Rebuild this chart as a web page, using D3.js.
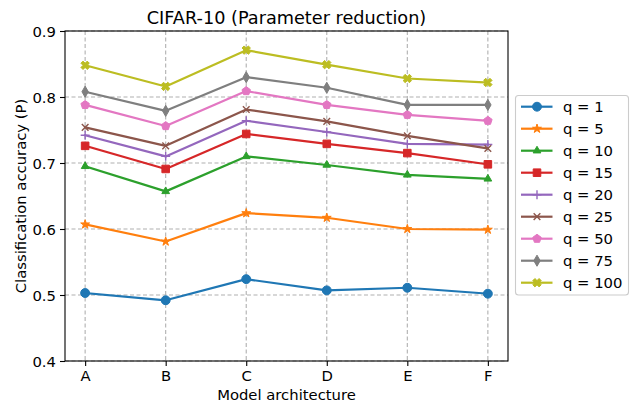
<!DOCTYPE html>
<html>
<head>
<meta charset="utf-8">
<script src="https://cdn.jsdelivr.net/npm/d3@7"></script>
<style>
  html, body { margin: 0; padding: 0; background: #fff; }
  svg { display: block; font-family: "DejaVu Sans", sans-serif; }
</style>
</head>
<body>
<svg id="chart" width="632" height="404"></svg>
<script>
const categories = ["A", "B", "C", "D", "E", "F"];
const yTicks = [0.4, 0.5, 0.6, 0.7, 0.8, 0.9];
const seriesNames = ["q = 1", "q = 5", "q = 10", "q = 15", "q = 20", "q = 25", "q = 50", "q = 75", "q = 100"];
const q1   = [0.503, 0.492, 0.524, 0.507, 0.511, 0.502];
const q5   = [0.607, 0.581, 0.624, 0.617, 0.600, 0.599];
const q10  = [0.695, 0.657, 0.710, 0.697, 0.682, 0.676];
const q15  = [0.726, 0.691, 0.744, 0.729, 0.715, 0.698];
const q20  = [0.742, 0.710, 0.764, 0.747, 0.729, 0.728];
const q25  = [0.754, 0.726, 0.781, 0.763, 0.741, 0.722];
const q50  = [0.788, 0.756, 0.809, 0.788, 0.773, 0.764];
const q75  = [0.808, 0.779, 0.830, 0.814, 0.788, 0.788];
const q100 = [0.848, 0.816, 0.871, 0.849, 0.828, 0.822];
const seriesValues = [q1, q5, q10, q15, q20, q25, q50, q75, q100];
const colors = ["#1f77b4", "#ff7f0e", "#2ca02c", "#d62728", "#9467bd", "#8c564b", "#e377c2", "#7f7f7f", "#bcbd22"];
const markers = ["o", "*", "^", "s", "+", "x", "p", "d", "X"];

const svg = d3.select("#chart");
const L = 65, R = 508, T = 31, B = 361;
const FS = 14.8;

const x = d3.scaleLinear().domain([-0.25, categories.length - 1 + 0.25]).range([L, R]);
const y = d3.scaleLinear().domain([0.4, 0.9]).range([B, T]);

// grid
const grid = svg.append("g");
categories.forEach((c, i) => {
  grid.append("line").attr("x1", x(i)).attr("x2", x(i)).attr("y1", T).attr("y2", B)
    .attr("stroke", "#b0b0b0").attr("stroke-width", 1.1).attr("stroke-dasharray", "4,2.5");
});
yTicks.forEach(t => {
  grid.append("line").attr("x1", L).attr("x2", R).attr("y1", y(t)).attr("y2", y(t))
    .attr("stroke", "#b0b0b0").attr("stroke-width", 1.1).attr("stroke-dasharray", "4,2.5");
});

// axes
const xAxis = d3.axisBottom(x).tickValues(d3.range(categories.length)).tickFormat(i => categories[i]).tickSize(5).tickPadding(4);
const yAxis = d3.axisLeft(y).tickValues(yTicks).tickFormat(d3.format(".1f")).tickSize(5).tickPadding(4);
const gx = svg.append("g").attr("transform", `translate(0,${B})`).call(xAxis);
const gy = svg.append("g").attr("transform", `translate(${L},0)`).call(yAxis);
[gx, gy].forEach(g => {
  g.select(".domain").remove();
  g.selectAll(".tick line").attr("stroke", "#000").attr("stroke-width", 1.1);
  g.selectAll(".tick text").attr("font-size", FS).attr("fill", "#000").attr("font-family", "DejaVu Sans");
});
gx.selectAll(".tick text").attr("dy", null).attr("y", 20);
gy.selectAll(".tick text").attr("dy", "0.36em");

// markers
function markerPath(m, s) {
  const r = s / 2;
  const p = d3.path();
  if (m === "o") { p.arc(0, 0, r, 0, 2 * Math.PI); return { d: p.toString(), fill: true }; }
  if (m === "*") {
    const pts = [];
    for (let k = 0; k < 10; k++) {
      const a = -Math.PI / 2 + k * Math.PI / 5;
      const rr = k % 2 === 0 ? r * 1.05 : r * 1.05 * 0.381966;
      pts.push([rr * Math.cos(a), rr * Math.sin(a)]);
    }
    return { d: "M" + pts.map(q => q.join(",")).join("L") + "Z", fill: true };
  }
  if (m === "^") {
    const pts = [[0, -r], [r * Math.sin(2 * Math.PI / 3), r / 2], [-r * Math.sin(2 * Math.PI / 3), r / 2]];
    return { d: "M" + pts.map(q => q.join(",")).join("L") + "Z", fill: true };
  }
  if (m === "s") { const h = r * 0.85; return { d: `M${-h},${-h}L${h},${-h}L${h},${h}L${-h},${h}Z`, fill: true }; }
  if (m === "+") { return { d: `M${-r},0L${r},0M0,${-r}L0,${r}`, fill: false }; }
  if (m === "x") { const h = r * 0.75; return { d: `M${-h},${-h}L${h},${h}M${-h},${h}L${h},${-h}`, fill: false }; }
  if (m === "p") {
    const pts = [];
    for (let k = 0; k < 5; k++) { const a = -Math.PI / 2 + k * 2 * Math.PI / 5; pts.push([r * Math.cos(a), r * Math.sin(a)]); }
    return { d: "M" + pts.map(q => q.join(",")).join("L") + "Z", fill: true };
  }
  if (m === "d") { const hh = r * 1.25, hw = r * 0.72; return { d: `M0,${-hh}L${hw},0L0,${hh}L${-hw},0Z`, fill: true }; }
  if (m === "X") {
    const u = [[1/3,0],[2/3,0],[2/3,1/3],[1,1/3],[1,2/3],[2/3,2/3],[2/3,1],[1/3,1],[1/3,2/3],[0,2/3],[0,1/3],[1/3,1/3]];
    const c = Math.cos(Math.PI / 4), sn = Math.sin(Math.PI / 4);
    const pts = u.map(([a, b]) => { const X = (a - 0.5) * s, Y = (b - 0.5) * s; return [X * c - Y * sn, X * sn + Y * c]; });
    return { d: "M" + pts.map(q => q.join(",")).join("L") + "Z", fill: true };
  }
}

function drawMarker(g, m, color, cx, cy) {
  const mp = markerPath(m, 8.9);
  g.append("path").attr("d", mp.d).attr("transform", `translate(${cx},${cy})`)
    .attr("fill", mp.fill ? color : "none").attr("stroke", color).attr("stroke-width", mp.fill ? 1 : 1.4)
    .attr("stroke-linejoin", "miter");
}

const line = d3.line().x((d, i) => x(i)).y(d => y(d));
const plot = svg.append("g");
seriesValues.forEach((vals, si) => {
  plot.append("path").datum(vals).attr("d", line).attr("fill", "none")
    .attr("stroke", colors[si]).attr("stroke-width", 2.2).attr("stroke-linejoin", "round").attr("stroke-linecap", "square");
  vals.forEach((v, i) => drawMarker(plot, markers[si], colors[si], x(i), y(v)));
});

// frame
svg.append("rect").attr("x", L).attr("y", T).attr("width", R - L).attr("height", B - T)
  .attr("fill", "none").attr("stroke", "#000").attr("stroke-width", 1.1);

// labels
svg.append("text").attr("x", (L + R) / 2).attr("y", 24).attr("text-anchor", "middle")
  .attr("font-size", 17.7).text("CIFAR-10 (Parameter reduction)");
svg.append("text").attr("x", (L + R) / 2).attr("y", 400).attr("text-anchor", "middle")
  .attr("font-size", FS).text("Model architecture");
svg.append("text").attr("transform", `translate(25.5,${(T + B) / 2}) rotate(-90)`).attr("text-anchor", "middle")
  .attr("font-size", FS).text("Classification accuracy (P)");

// legend
const lg = svg.append("g");
lg.append("rect").attr("x", 515.5).attr("y", 95.5).attr("width", 113).attr("height", 199.5).attr("rx", 3)
  .attr("fill", "#fff").attr("fill-opacity", 0.8).attr("stroke", "#cccccc").attr("stroke-width", 1.1);
seriesNames.forEach((name, si) => {
  const yy = 106.7 + si * 22.0;
  lg.append("line").attr("x1", 521).attr("x2", 552.5).attr("y1", yy).attr("y2", yy)
    .attr("stroke", colors[si]).attr("stroke-width", 2.2);
  drawMarker(lg, markers[si], colors[si], 537, yy);
  lg.append("text").attr("x", 563).attr("y", yy + 5.3).attr("font-size", FS).text(name);
});
</script>
</body>
</html>
